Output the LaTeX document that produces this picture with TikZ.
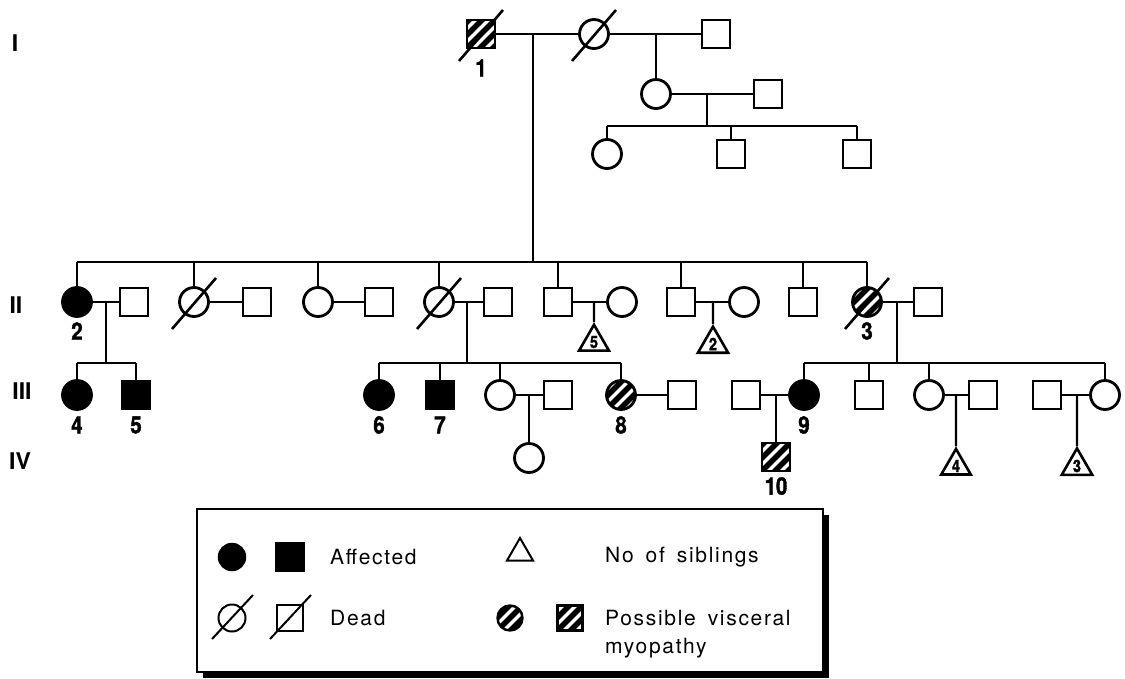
\documentclass[tikz,border=0pt]{standalone}
\usepackage{fontspec}
\setmainfont{TeX Gyre Heros}
\newfontfamily\numfont[FakeStretch=0.85,FakeBold=1.5]{TeX Gyre Heros}
\newfontfamily\legfont[LetterSpace=8,WordSpace=1.6]{TeX Gyre Heros}
\usetikzlibrary{shapes.geometric}
\newcommand\deadmark[1]{\draw[line width=2.6pt] ([shift={(-22,27)}]#1.center) -- ([shift={(22,-24)}]#1.center);}
\newcommand\deadmarksmall[1]{\draw[line width=2pt] ([shift={(-20,21)}]#1.center) -- ([shift={(21,-23)}]#1.center);}
\begin{document}
\begin{tikzpicture}[x=1pt,y=-1pt,
  lw/.style={line width=2.4pt},
  male/.style={draw, line width=2.8pt, rectangle, minimum size=28pt, inner sep=0pt},
  female/.style={draw, line width=2.8pt, circle, minimum size=29pt, inner sep=0pt},
  aff/.style={fill=black},
  hatch/.style={path picture={\foreach \k in {-52,-39,...,52}{\draw[line width=5.6pt] ([xshift={(\k-30)*1pt},yshift=-30pt]path picture bounding box.center) -- ([xshift={(\k+30)*1pt},yshift=30pt]path picture bounding box.center);}}},
  sibs/.style={draw, line width=2.6pt, regular polygon, regular polygon sides=3, minimum size=34pt, inner sep=0pt, font=\numfont\bfseries\fontsize{17}{17}\selectfont},
  lbl/.style={font=\numfont\bfseries\fontsize{24}{24}\selectfont, inner sep=0pt},
  gen/.style={font=\bfseries\fontsize{23}{23}\selectfont, inner sep=0pt},
  leg/.style={font=\legfont\fontsize{21}{24}\selectfont, anchor=west, inner sep=0pt}
]
\useasboundingbox (0,0) rectangle (1125,678);

% generation labels
\node[gen] (gI) at (15,43) {I};
\node[gen] (gII) at (16,305) {II};
\node[gen] (gIII) at (22,391) {III};
\node[gen] (gIV) at (20,461) {IV};

% ---------- Generation I ----------
\node[male,hatch] (i1) at (481,34) {};
\node[female] (i2) at (594,34) {};
\node[male] (i3) at (716,34) {};
\node[female] (ia) at (656,94) {};
\node[male] (ib) at (768,94) {};
\node[female] (ic1) at (607,154) {};
\node[male] (ic2) at (731,154) {};
\node[male] (ic3) at (857,154) {};
\coordinate (mI1) at (533,34);
\coordinate (sII) at (533,262);
\coordinate (mI2) at (656,34);
\coordinate (mIa) at (707,94);
\coordinate (sIa) at (707,126);
\draw[lw] (i1) -- (i2);
\draw[lw] (i2) -- (i3);
\draw[lw] (mI1) -- (sII);
\draw[lw] (mI2) -- (ia);
\draw[lw] (ia) -- (ib);
\draw[lw] (mIa) -- (sIa);
\draw[lw] (ic1 |- sIa) -- (ic3 |- sIa);
\draw[lw] (ic1 |- sIa) -- (ic1);
\draw[lw] (ic2 |- sIa) -- (ic2);
\draw[lw] (ic3 |- sIa) -- (ic3);
\deadmark{i1}
\deadmark{i2}
\node[lbl] (l1) at (481,68) {1};

% ---------- Generation II ----------
\node[female,aff] (ii2) at (77,302) {};
\node[male] (sa) at (134,302) {};
\node[female] (cb) at (194,302) {};
\node[male] (sb) at (257,302) {};
\node[female] (cc) at (318,302) {};
\node[male] (sc) at (379,302) {};
\node[female] (cd) at (439,302) {};
\node[male] (sd) at (498,302) {};
\node[male] (se) at (558,302) {};
\node[female] (ce) at (622,302) {};
\node[male] (sf) at (681,302) {};
\node[female] (cf) at (744,302) {};
\node[male] (sg) at (803,302) {};
\node[female,hatch] (ii3) at (867,302) {};
\node[male] (sh) at (928,302) {};
\deadmark{cb}
\deadmark{cd}
\deadmark{ii3}
\node[lbl] (l2) at (77,331) {2};
\node[lbl] (l3) at (867,331) {3};

\draw[lw] (ii2 |- sII) -- (ii3 |- sII);
\foreach \n in {ii2,cb,cc,cd,se,sf,sg,ii3} \draw[lw] (\n |- sII) -- (\n);
\draw[lw] (ii2) -- (sa);
\draw[lw] (cb) -- (sb);
\draw[lw] (cc) -- (sc);
\draw[lw] (cd) -- (sd);
\draw[lw] (se) -- (ce);
\draw[lw] (sf) -- (cf);
\draw[lw] (ii3) -- (sh);

% sibship triangles
\node[sibs] (t5) at (594,342) {5};
\node[sibs] (t2) at (713,344) {2};
\coordinate (mE) at (594,302);
\coordinate (mF) at (713,302);
\draw[lw] (mE) -- (t5);
\draw[lw] (mF) -- (t2);

% ---------- Generation III ----------
\coordinate (mA) at (106,302);
\coordinate (sA) at (106,363);
\node[female,aff] (iii4) at (77,395) {};
\node[male,aff] (iii5) at (136,395) {};
\draw[lw] (mA) -- (sA);
\draw[lw] (iii4 |- sA) -- (iii5 |- sA);
\draw[lw] (iii4 |- sA) -- (iii4);
\draw[lw] (iii5 |- sA) -- (iii5);
\node[lbl] (l4) at (77,425) {4};
\node[lbl] (l5) at (136,425) {5};

\coordinate (mD) at (467,302);
\coordinate (sD) at (467,363);
\node[female,aff] (iii6) at (379,395) {};
\node[male,aff] (iii7) at (440,395) {};
\node[female] (cg) at (500,395) {};
\node[male] (sgg) at (558,395) {};
\node[female,hatch] (iii8) at (621,395) {};
\node[male] (si) at (682,395) {};
\draw[lw] (mD) -- (sD);
\draw[lw] (iii6 |- sD) -- (iii8 |- sD);
\foreach \n in {iii6,iii7,cg,iii8} \draw[lw] (\n |- sD) -- (\n);
\draw[lw] (cg) -- (sgg);
\draw[lw] (iii8) -- (si);
\node[lbl] (l6) at (379,425) {6};
\node[lbl] (l7) at (440,425) {7};
\node[lbl] (l8) at (621,425) {8};

\coordinate (mG) at (529,395);
\node[female] (iv1) at (529,458) {};
\draw[lw] (mG) -- (iv1);

\coordinate (mH) at (897,302);
\coordinate (sH) at (897,363);
\node[male] (sm) at (746,395) {};
\node[female,aff] (iii9) at (804,395) {};
\node[male] (sj) at (869,395) {};
\node[female] (ck) at (929,395) {};
\node[male] (sk) at (983,395) {};
\node[male] (sl) at (1047,395) {};
\node[female] (cl) at (1105,395) {};
\draw[lw] (mH) -- (sH);
\draw[lw] (iii9 |- sH) -- (cl |- sH);
\foreach \n in {iii9,sj,ck,cl} \draw[lw] (\n |- sH) -- (\n);
\draw[lw] (sm) -- (iii9);
\draw[lw] (ck) -- (sk);
\draw[lw] (sl) -- (cl);
\node[lbl] (l9) at (804,425) {9};

% ---------- Generation IV ----------
\coordinate (mM) at (776,395);
\node[male,hatch] (iv10) at (776,457) {};
\draw[lw] (mM) -- (iv10);
\node[lbl] (l10) at (776,486) {10};

\coordinate (mK) at (956,395);
\coordinate (mL) at (1077,395);
\node[sibs] (t4) at (956,466) {4};
\node[sibs] (t3) at (1077,466) {3};
\draw[lw] (mK) -- (t4);
\draw[lw] (mL) -- (t3);

% ---------- Legend ----------
\fill[black] (203,515) rectangle (829,678);
\draw[fill=white, line width=1.8pt] (197,509) rectangle (823,672);
\node[female,aff,line width=1.5pt,minimum size=27pt] (kf) at (232,557) {};
\node[male,aff,line width=1.5pt,minimum size=28pt] (km) at (290,557) {};
\node[leg] (ktA) at (330,557) {Affected};
\node[draw, line width=2pt, regular polygon, regular polygon sides=3, minimum size=30pt, inner sep=0pt] (kt) at (520,553) {};
\node[leg] (ktN) at (605,557) {No of siblings};
\node[female,line width=2pt,minimum size=27pt] (kdf) at (232,618) {};
\node[male,line width=2pt,minimum size=26pt] (kdm) at (290,618) {};
\deadmarksmall{kdf}
\deadmarksmall{kdm}
\node[leg] (ktD) at (330,618) {Dead};
\node[female,hatch,line width=2.4pt,minimum size=25pt] (khf) at (510,618) {};
\node[male,hatch,line width=2.4pt,minimum size=25pt] (khm) at (570,618) {};
\node[leg] (ktP) at (605,618) {Possible visceral};
\node[leg] (ktM) at (605,648) {myopathy};
\end{tikzpicture}
\end{document}
